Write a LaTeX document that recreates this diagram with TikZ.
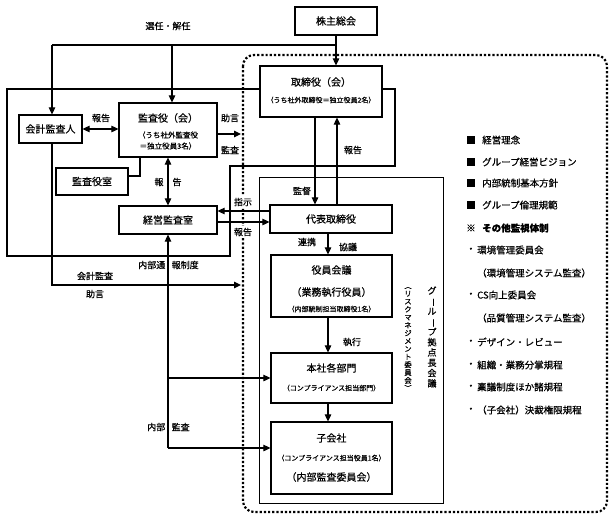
\documentclass[tikz,border=0pt]{standalone}
\usepackage{fontspec}
\setmainfont{Noto Sans CJK JP}[FakeBold=0.6]
\usetikzlibrary{arrows.meta}
\newcommand\vbarch{\rotatebox[origin=c]{-90}{ー}}
\newcommand\vlparen{\rotatebox[origin=c]{-90}{（}}
\newcommand\vrparen{\rotatebox[origin=c]{-90}{）}}
\begin{document}
\begin{tikzpicture}[x=1pt,y=-1pt,
  box/.style={draw, line width=1.2pt, fill=white, inner sep=0pt},
  thin/.style={draw, line width=0.9pt},
  ln/.style={line width=1.1pt},
  arr/.style={line width=1.1pt, -{Triangle[length=7pt,width=6.5pt]}},
  darr/.style={line width=1.1pt, {Triangle[length=7pt,width=6.5pt]}-{Triangle[length=7pt,width=6.5pt]}},
  big/.style={inner sep=0pt, font=\fontsize{10}{12}\selectfont},
  sub/.style={inner sep=0pt, font=\fontsize{7}{8}\selectfont},
  lbl/.style={inner sep=0.5pt, font=\fontsize{9}{10}\selectfont},
  wlbl/.style={lbl, fill=white, inner sep=1.5pt},
  lst/.style={inner sep=0pt, anchor=west, font=\fontsize{9.5}{11}\selectfont},
  dotline/.style={line width=2.2pt, dash pattern=on 2.2pt off 2pt, rounded corners=11pt}
]
\useasboundingbox (0,0) rectangle (612,519);
\fill[white] (0,0) rectangle (612,519);

% thick outline
\draw[line width=1.8pt] (7,89) -- (395,89) -- (395,166) -- (230,166) -- (230,256) -- (7,256) -- cycle;

% dotted group border
\draw[dotline] (243,55) rectangle (607,512);

% group box
\node[thin, minimum width=184pt, minimum height=326pt, inner sep=0pt] (grp) at (351,340) {};

% boxes
\node[box, minimum width=82pt, minimum height=28pt] (kabu) at (336,21) {};
\node[big] (kabu-t) at (kabu) {株主総会};

\node[box, minimum width=122pt, minimum height=51pt] (tori) at (321,91.5) {};
\node[big] (tori-t) at (321,82) {取締役（会）};
\node[sub] (tori-s) at (321,100) {（うち社外取締役＝独立役員2名）};

\node[box, minimum width=63pt, minimum height=28pt] (kaikei) at (50.5,129) {};
\node[big] (kaikei-t) at (kaikei) {会計監査人};

\node[box, minimum width=98pt, minimum height=54pt] (kansa) at (168,130) {};
\node[big] (kansa-t) at (168,118) {監査役（会）};
\node[sub, font=\fontsize{7.5}{8}\selectfont] (kansa-s1) at (168,135) {（うち社外監査役};
\node[sub, font=\fontsize{7.5}{8}\selectfont] (kansa-s2) at (168,146) {＝独立役員3名）};

\node[box, minimum width=72pt, minimum height=27pt] (kshitsu) at (92,181.5) {};
\node[big] (kshitsu-t) at (kshitsu) {監査役室};

\node[box, minimum width=98pt, minimum height=28pt] (keiei) at (168,220) {};
\node[big] (keiei-t) at (keiei) {経営監査室};

\node[box, minimum width=122pt, minimum height=28pt] (daihyo) at (331,219) {};
\node[big] (daihyo-t) at (daihyo) {代表取締役};

\node[box, minimum width=121pt, minimum height=62pt] (yakuin) at (331.5,286) {};
\node[big] (yakuin-t) at (331.5,270) {役員会議};
\node[big] (yakuin-s1) at (331.5,292) {（業務執行役員）};
\node[sub] (yakuin-s2) at (331.5,309) {（内部統制担当取締役1名）};

\node[box, minimum width=121pt, minimum height=50pt] (honsha) at (331.5,378) {};
\node[big] (honsha-t) at (331.5,368) {本社各部門};
\node[sub] (honsha-s) at (331.5,388) {（コンプライアンス担当部門）};

\node[box, minimum width=121pt, minimum height=72pt] (ko) at (331.5,458) {};
\node[big] (ko-t) at (331.5,438) {子会社};
\node[sub] (ko-s1) at (331.5,458) {（コンプライアンス担当役員1名）};
\node[big] (ko-s2) at (331.5,477) {（内部監査委員会）};

% vertical texts
\node[inner sep=0pt, align=center, font=\fontsize{9}{10.3}\selectfont] (vg) at (432,337)
  {グ\\\vbarch\\ル\\\vbarch\\プ\\拠\\点\\長\\会\\議};
\node[inner sep=0pt, align=center, font=\fontsize{7.3}{7.9}\selectfont] (vr) at (408,337)
  {\vlparen\\リ\\ス\\ク\\マ\\ネ\\ジ\\メ\\ン\\ト\\委\\員\\会\\\vrparen};

% coordinates
\coordinate (j1) at (336,45);
\coordinate (j2) at (52,45);
\coordinate (j3) at (172,45);
\coordinate (d1) at (241,134);
\coordinate (ks1) at (128,176);
\coordinate (ks2) at (140,176);
\coordinate (s1) at (0,211);
\coordinate (s2) at (0,222);
\coordinate (m1) at (315,0);
\coordinate (m2) at (337,0);
\coordinate (m3) at (328,0);
\coordinate (n1) at (168,448);
\coordinate (n2) at (168,378);
\coordinate (k1) at (52,285);
\coordinate (k2) at (241,285);

% connectors
\draw[arr] (kabu.south) -- (kabu.south |- tori.north);
\draw[ln] (j2) -- (j1);
\draw[arr] (j2) -- (j2 |- kaikei.north);
\draw[arr] (j3) -- (j3 |- kansa.north);
\draw[darr] (kaikei.east) -- (kaikei.east -| kansa.west);
\draw[arr] (kansa.east |- d1) -- (d1);
\draw[ln] (kshitsu.east |- ks1) -- (ks2) -- (ks2 |- kansa.south);
\draw[darr] (kansa.south) -- (keiei.north);
\draw[arr] (daihyo.west |- s1) -- (keiei.east |- s1);
\draw[arr] (keiei.east |- s2) -- (daihyo.west |- s2);
\draw[arr] (tori.south -| m1) -- (daihyo.north -| m1);
\draw[arr] (daihyo.north -| m2) -- (tori.south -| m2);
\draw[arr] (daihyo.south -| m3) -- (yakuin.north -| m3);
\draw[arr] (yakuin.south -| m3) -- (honsha.north -| m3);
\draw[arr] (honsha.south -| m3) -- (ko.north -| m3);
\draw[arr] (n1) -- (keiei.south);
\draw[arr] (n2) -- (honsha.west |- n2);
\draw[arr] (n1) -- (ko.west |- n1);
\draw[arr] (kaikei.south -| k1) -- (k1) -- (k2);

% labels
\node[lbl] (l-senin) at (168,26) {選任・解任};
\node[lbl] (l-hok1) at (101,118) {報告};
\node[lbl] (l-jogen1) at (230,118) {助言};
\node[lbl] (l-kansa1) at (230,150) {監査};
\node[lbl] (l-ho) at (159,182) {報};
\node[lbl] (l-koku) at (177,182) {告};
\node[wlbl] (l-shiji) at (243,202) {指示};
\node[wlbl] (l-hok2) at (243,232) {報告};
\node[lbl] (l-kantoku) at (302,191) {監督};
\node[lbl] (l-hok3) at (353,150) {報告};
\node[lbl] (l-renkei) at (307,242) {連携};
\node[lbl] (l-kyogi) at (348,247) {協議};
\node[lbl] (l-shikko) at (352,342) {執行};
\node[lbl, anchor=east] (l-tsu1) at (166,265) {内部通};
\node[lbl, anchor=west] (l-tsu2) at (171,265) {報制度};
\node[lbl] (l-kk) at (95,276) {会計監査};
\node[lbl] (l-jogen2) at (95,294) {助言};
\node[lbl, anchor=east] (l-nb1) at (166,427) {内部};
\node[lbl, anchor=west] (l-nb2) at (171,427) {監査};

% right list
\node[lst] (b1) at (466,140) {■};  \node[lst] (t1) at (482,140) {経営理念};
\node[lst] (b2) at (466,162) {■};  \node[lst] (t2) at (482,162) {グループ経営ビジョン};
\node[lst] (b3) at (466,183) {■};  \node[lst] (t3) at (482,183) {内部統制基本方針};
\node[lst] (b4) at (466,205) {■};  \node[lst] (t4) at (482,205) {グループ倫理規範};
\node[lst] (b5) at (466,228) {※};  \node[lst, font=\fontsize{9.5}{11}\selectfont\bfseries] (t5) at (482,228) {その他監視体制};
\node[lst] (b6) at (466,250) {・};  \node[lst] (t6) at (477,250) {環境管理委員会};
\node[lst] (t7) at (477,273) {（環境管理システム監査）};
\node[lst] (b8) at (466,295) {・};  \node[lst] (t8) at (477,295) {CS向上委員会};
\node[lst] (t9) at (477,318) {（品質管理システム監査）};
\node[lst] (b10) at (466,342) {・}; \node[lst] (t10) at (477,342) {デザイン・レビュー};
\node[lst] (b11) at (466,365) {・}; \node[lst] (t11) at (477,365) {組織・業務分掌規程};
\node[lst] (b12) at (466,387) {・}; \node[lst] (t12) at (477,387) {稟議制度ほか諸規程};
\node[lst] (b13) at (466,410) {・}; \node[lst] (t13) at (477,410) {（子会社）決裁権限規程};
\end{tikzpicture}
\end{document}
